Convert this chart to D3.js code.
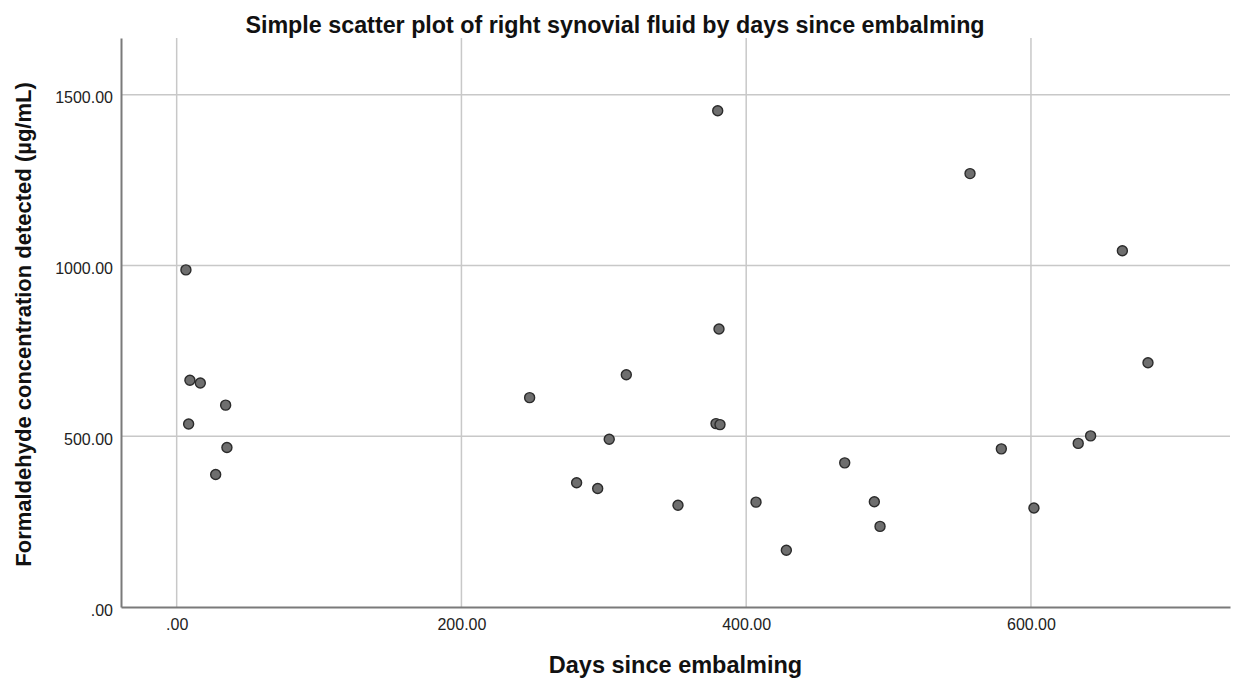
<!DOCTYPE html>
<html>
<head>
<meta charset="utf-8">
<script src="https://cdn.jsdelivr.net/npm/d3@7"></script>
<style>
  html, body { margin: 0; padding: 0; background: #fff; }
  svg { display: block; }
  text { font-family: "Liberation Sans", Arial, sans-serif; }
</style>
</head>
<body>
<svg id="chart" width="1233" height="679"></svg>
<script>
// Days since embalming for each cadaver sample
const days = [6.5, 9.3, 16.6, 34.4, 8.4, 35.3, 27.4,
  380.0, 380.9, 315.8, 247.9, 378.8, 381.6, 303.8, 280.9, 295.7, 352.1, 406.9,
  557.2, 664.2, 682.2, 641.9, 633.2, 579.2, 469.2, 490.0, 494.0, 602.1, 428.2];

// Formaldehyde concentration in right synovial fluid (µg/mL)
const concentration = [987, 664, 656, 591, 536, 467, 388,
  1453, 814, 680, 613, 537, 534, 491, 364, 347, 298, 307,
  1269, 1043, 715, 501, 479, 463, 422, 308, 236, 290, 166];

const xTicks = [0, 200, 400, 600];
const yTicks = [0, 500, 1000, 1500];

const titleText = "Simple scatter plot of right synovial fluid by days since embalming";
const xLabel = "Days since embalming";
const yLabel = "Formaldehyde concentration detected (µg/mL)";

const fmt = v => v === 0 ? ".00" : d3.format(".2f")(v);

const svg = d3.select("#chart");
const margin = { left: 121, right: 3, top: 38, bottom: 72 };
const W = 1233, H = 679;

const x = d3.scaleLinear().domain([-39.1, 739.8]).range([margin.left, W - margin.right]);
const y = d3.scaleLinear().domain([0, 1666]).range([H - margin.bottom, margin.top]);

// Gridlines
svg.append("g")
  .selectAll("line")
  .data(xTicks)
  .join("line")
  .attr("x1", d => x(d)).attr("x2", d => x(d))
  .attr("y1", y.range()[1]).attr("y2", y.range()[0])
  .attr("stroke", "#c8c8c8").attr("stroke-width", 1.5);

svg.append("g")
  .selectAll("line")
  .data(yTicks.filter(d => d > 0))
  .join("line")
  .attr("x1", x.range()[0]).attr("x2", x.range()[1])
  .attr("y1", d => y(d)).attr("y2", d => y(d))
  .attr("stroke", "#c8c8c8").attr("stroke-width", 1.5);

// Axes
const xAxis = d3.axisBottom(x).tickValues(xTicks).tickFormat(fmt).tickSize(0).tickPadding(11);
const yAxis = d3.axisLeft(y).tickValues(yTicks).tickFormat(fmt).tickSize(0).tickPadding(8);

const gx = svg.append("g").attr("transform", `translate(0,${y(0)})`).call(xAxis);
const gy = svg.append("g").attr("transform", `translate(${x.range()[0]},0)`).call(yAxis);

[gx, gy].forEach(g => {
  g.attr("font-size", null).attr("font-family", null);
  g.select(".domain").attr("stroke", "#7a7a7a").attr("stroke-width", 2);
  g.selectAll(".tick text")
    .style("font-family", "'Liberation Sans', Arial, sans-serif")
    .style("font-size", "16px").attr("fill", "#222");
});
gx.selectAll(".tick text").attr("y", 0).attr("dy", null)
  .attr("transform", "translate(0,22.5)");
gy.selectAll(".tick text").attr("dy", "0.5em");

// Points
svg.append("g")
  .selectAll("circle")
  .data(days.map((d, i) => [d, concentration[i]]))
  .join("circle")
  .attr("cx", d => x(d[0]))
  .attr("cy", d => y(d[1]))
  .attr("r", 5)
  .attr("fill", "#6e6e6e")
  .attr("stroke", "#2b2b2b")
  .attr("stroke-width", 1.4);

// Titles
svg.append("text")
  .attr("x", 615).attr("y", 33)
  .attr("text-anchor", "middle")
  .style("font-size", "23.3px").attr("font-weight", "bold").attr("fill", "#111")
  .text(titleText);

svg.append("text")
  .attr("x", 675.5).attr("y", 673)
  .attr("text-anchor", "middle")
  .style("font-size", "23.5px").attr("font-weight", "bold").attr("fill", "#111")
  .text(xLabel);

svg.append("text")
  .attr("transform", `translate(31,${324.5}) rotate(-90)`)
  .attr("text-anchor", "middle")
  .style("font-size", "22px").attr("font-weight", "bold").attr("fill", "#111")
  .text(yLabel);
</script>
</body>
</html>
